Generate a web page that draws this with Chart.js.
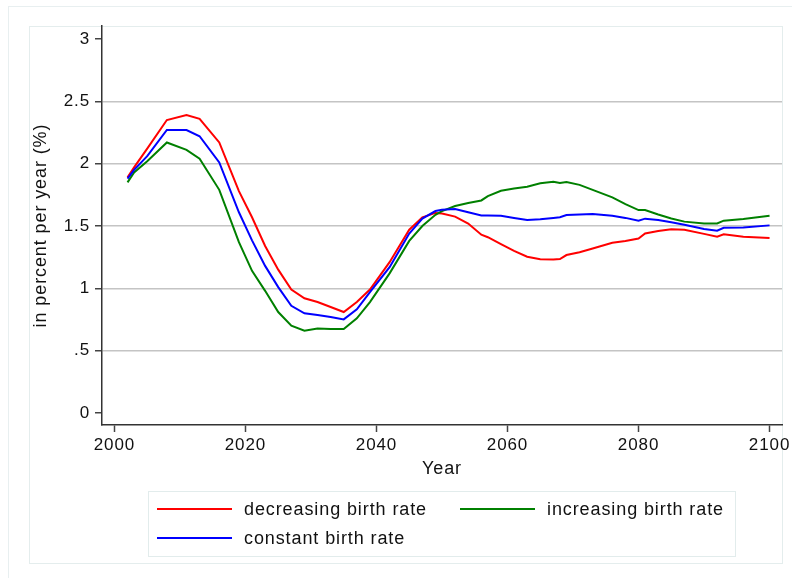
<!DOCTYPE html>
<html>
<head>
<meta charset="utf-8">
<script src="https://cdn.jsdelivr.net/npm/chart.js@4/dist/chart.umd.min.js"></script>
<style>
  html, body { margin: 0; padding: 0; background: #ffffff; }
  canvas { display: block; }
</style>
</head>
<body>
<canvas id="growth" width="792" height="578"></canvas>
<script>
// Population growth scenarios, percent per year
const years = [2002, 2003, 2005, 2008, 2011, 2013, 2016, 2019, 2021, 2023, 2025, 2027,
  2029, 2031, 2033, 2035, 2037, 2039, 2042, 2045, 2047, 2049, 2050, 2052,
  2054, 2056, 2057, 2059, 2061, 2063, 2065, 2067, 2068, 2069, 2071, 2073,
  2076, 2078, 2080, 2081, 2083, 2085, 2087, 2090, 2092, 2093, 2096, 2100];

const decreasing = [1.89, 1.97, 2.12, 2.35, 2.39, 2.36, 2.17, 1.78, 1.57, 1.34, 1.15, 0.99,
  0.92, 0.89, 0.85, 0.81, 0.89, 0.99, 1.21, 1.47, 1.57, 1.605, 1.60, 1.575,
  1.52, 1.43, 1.41, 1.355, 1.30, 1.254, 1.233, 1.232, 1.235, 1.267, 1.29, 1.32,
  1.365, 1.38, 1.40, 1.44, 1.46, 1.473, 1.47, 1.437, 1.414, 1.433, 1.413, 1.404];

const increasing = [1.85, 1.93, 2.02, 2.17, 2.11, 2.04, 1.79, 1.37, 1.14, 0.98, 0.81, 0.70,
  0.66, 0.678, 0.674, 0.674, 0.76, 0.89, 1.12, 1.38, 1.50, 1.59, 1.62, 1.66,
  1.685, 1.705, 1.74, 1.783, 1.80, 1.815, 1.842, 1.855, 1.845, 1.853, 1.83, 1.79,
  1.73, 1.675, 1.628, 1.628, 1.592, 1.56, 1.535, 1.52, 1.52, 1.543, 1.556, 1.583];

const constant = [1.88, 1.95, 2.06, 2.27, 2.27, 2.22, 2.01, 1.61, 1.385, 1.18, 1.01, 0.86,
  0.80, 0.786, 0.77, 0.751, 0.832, 0.97, 1.17, 1.44, 1.56, 1.62, 1.63, 1.636,
  1.61, 1.585, 1.585, 1.583, 1.565, 1.548, 1.555, 1.565, 1.57, 1.588, 1.592, 1.596,
  1.583, 1.565, 1.543, 1.559, 1.548, 1.53, 1.51, 1.476, 1.462, 1.486, 1.488, 1.505];

const seriesLabels = ['decreasing birth rate', 'increasing birth rate', 'constant birth rate'];
const xTicks = [2000, 2020, 2040, 2060, 2080, 2100];
const yTicks = [0, 0.5, 1, 1.5, 2, 2.5, 3];
const yTickLabels = ['0', '.5', '1', '1.5', '2', '2.5', '3'];
const xTitle = 'Year';
const yTitle = 'in percent per year (%)';

const FONT = "'Liberation Sans', Arial, Helvetica, sans-serif";
const TEXT = '#111111';
const SPACING = '0.9px';

const toPoints = vals => years.map((yr, i) => ({ x: yr, y: vals[i] }));

// Background, outer frame and inner graph region
const framePlugin = {
  id: 'frames',
  beforeInit(chart) { chart.ctx.letterSpacing = SPACING; },
  beforeDraw(chart) {
    const ctx = chart.ctx;
    ctx.save();
    ctx.fillStyle = '#ffffff';
    ctx.fillRect(0, 0, chart.width, chart.height);
    ctx.lineWidth = 1;
    ctx.strokeStyle = '#e8eff0';
    ctx.strokeRect(8.5, 6.5, chart.width + 20, chart.height + 20);
    ctx.strokeStyle = '#e4eded';
    ctx.strokeRect(29.5, 26.5, 753, 537);
    ctx.restore();
    ctx.letterSpacing = SPACING;
  }
};

// Two-column legend in a framed box under the plot
const legendPlugin = {
  id: 'boxLegend',
  afterDraw(chart) {
    const ctx = chart.ctx;
    const slots = [{ x: 157, y: 509 }, { x: 460, y: 509 }, { x: 157, y: 538 }];
    ctx.save();
    ctx.letterSpacing = SPACING;
    ctx.lineWidth = 1;
    ctx.strokeStyle = '#e2ecec';
    ctx.strokeRect(148.5, 491.5, 587, 65);
    chart.data.datasets.forEach((ds, i) => {
      const s = slots[i];
      ctx.strokeStyle = ds.borderColor;
      ctx.lineWidth = 2;
      ctx.beginPath();
      ctx.moveTo(s.x, s.y);
      ctx.lineTo(s.x + 75, s.y);
      ctx.stroke();
      ctx.fillStyle = TEXT;
      ctx.font = '18px ' + FONT;
      ctx.textAlign = 'left';
      ctx.textBaseline = 'middle';
      ctx.fillText(ds.label, s.x + 87, s.y + 1);
    });
    ctx.restore();
  }
};

new Chart(document.getElementById('growth'), {
  type: 'line',
  data: {
    datasets: [
      { label: seriesLabels[0], data: toPoints(decreasing), borderColor: '#ff0000', order: 3 },
      { label: seriesLabels[1], data: toPoints(increasing), borderColor: '#008000', order: 2 },
      { label: seriesLabels[2], data: toPoints(constant), borderColor: '#0000ff', order: 1 }
    ]
  },
  options: {
    responsive: false,
    animation: false,
    devicePixelRatio: 1,
    layout: { padding: { top: 26, right: 10, left: 0, bottom: 0 } },
    elements: {
      line: { borderWidth: 2, tension: 0, fill: false },
      point: { radius: 0, hoverRadius: 0 }
    },
    plugins: {
      legend: { display: false },
      tooltip: { enabled: false }
    },
    scales: {
      x: {
        type: 'linear',
        min: 1998.1,
        max: 2101.9,
        afterFit: s => { s.height = 153; },
        afterBuildTicks: s => { s.ticks = xTicks.map(v => ({ value: v })); },
        grid: { drawOnChartArea: false, tickLength: 7, tickColor: '#444444', tickWidth: 1.5 },
        border: { color: '#333333', width: 1.5 },
        ticks: {
          color: TEXT, padding: 3, maxRotation: 0, autoSkip: false,
          font: { family: FONT, size: 17 },
          callback: v => String(v)
        },
        title: {
          display: true, text: xTitle, color: TEXT,
          font: { family: FONT, size: 18 },
          padding: { top: 0, bottom: 98 }
        }
      },
      y: {
        type: 'linear',
        min: -0.096,
        max: 3.104,
        afterFit: s => { s.width = 102; },
        afterBuildTicks: s => { s.ticks = yTicks.map(v => ({ value: v })); },
        grid: {
          color: c => (c.tick && (c.tick.value === 0 || c.tick.value === 3)) ? 'rgba(0,0,0,0)' : '#c4c4c4',
          lineWidth: 1.5,
          tickLength: 7, tickColor: '#444444', tickWidth: 1.5
        },
        border: { color: '#333333', width: 1.5 },
        ticks: {
          color: TEXT, padding: 5, autoSkip: false,
          font: { family: FONT, size: 17 },
          callback: v => { const k = yTicks.indexOf(v); return k >= 0 ? yTickLabels[k] : ''; }
        },
        title: {
          display: true, text: yTitle, color: TEXT,
          font: { family: FONT, size: 18 },
          padding: { top: 30, bottom: 0 }
        }
      }
    }
  },
  plugins: [framePlugin, legendPlugin]
});
</script>
</body>
</html>
